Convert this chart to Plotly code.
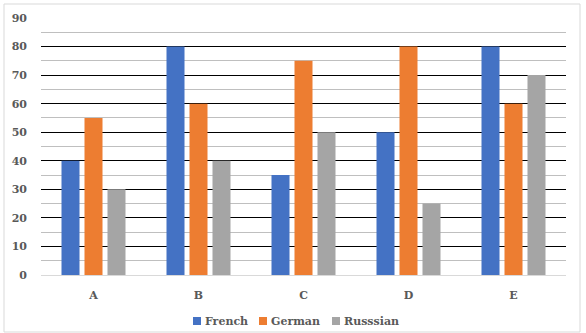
import plotly.graph_objects as go

categories = ["A", "B", "C", "D", "E"]
french = [40, 80, 35, 50, 80]
german = [55, 60, 75, 80, 60]
russian = [30, 40, 50, 25, 70]
series_names = ["French", "German", "Russsian"]
colors = ["#4472C4", "#ED7D31", "#A5A5A5"]

FONT = "DejaVu Serif"
TXT = "#595959"

fig = go.Figure()
for name, vals, col in zip(series_names, [french, german, russian], colors):
    fig.add_trace(go.Bar(x=categories, y=vals, name=name, marker_color=col,
                         marker_line_width=0, showlegend=False))

L, R, T, B = 41, 20, 18, 58
W, H = 586, 333
pw, ph = W - L - R, H - T - B

def px_x(x):
    return (x - L) / pw

def px_y(y):
    return (H - B - y) / ph

shapes = [dict(type="rect", xref="paper", yref="paper",
               x0=px_x(4), x1=px_x(580), y0=px_y(332), y1=px_y(4),
               line=dict(color="#D9D9D9", width=1), fillcolor="rgba(0,0,0,0)", layer="below")]
annotations = []
# legend (drawn manually for tight Excel-like spacing)
legend_x = [193, 259, 332]
legend_y = 321
for name, col, lx in zip(series_names, colors, legend_x):
    shapes.append(dict(type="rect", xref="paper", yref="paper",
                       x0=px_x(lx), x1=px_x(lx + 8), y0=px_y(legend_y + 4), y1=px_y(legend_y - 4),
                       line=dict(width=0), fillcolor=col))
    annotations.append(dict(xref="paper", yref="paper", x=px_x(lx + 10), y=px_y(legend_y),
                            xanchor="left", yanchor="middle", showarrow=False, text=name,
                            font=dict(family=FONT, size=11, color=TXT, weight="bold")))

fig.update_layout(
    width=W, height=H,
    margin=dict(l=L, r=R, t=T, b=B, pad=0, autoexpand=False),
    paper_bgcolor="white", plot_bgcolor="white",
    barmode="group", bargap=0.343, bargroupgap=0.217,
    font=dict(family=FONT, size=11, color=TXT),
    showlegend=False,
    xaxis=dict(showgrid=False, showline=True, linecolor="#D9D9D9", linewidth=1,
               ticks="", tickfont=dict(family=FONT, size=11, color=TXT, weight="bold"),
               ticklabelstandoff=10),
    yaxis=dict(range=[0, 90], dtick=10, showgrid=True, gridcolor="black", gridwidth=1,
               zeroline=True, zerolinecolor="#D9D9D9", zerolinewidth=1,
               ticks="", tickfont=dict(family=FONT, size=11, color=TXT, weight="bold"),
               ticklabelstandoff=13,
               minor=dict(dtick=5, showgrid=True, gridcolor="#BFBFBF", gridwidth=1)),
    shapes=shapes,
    annotations=annotations,
)
fig.write_html("out.html")
